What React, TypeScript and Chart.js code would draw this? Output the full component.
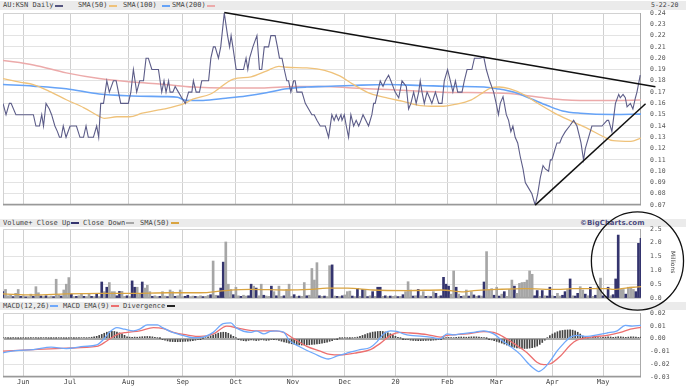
import React, { useEffect, useRef } from 'react';
import { Chart, registerables } from 'chart.js';
Chart.register(...registerables);

// ---------- axis labels ----------
const monthLabels = ['Jun', 'Jul', 'Aug', 'Sep', 'Oct', 'Nov', 'Dec', '20', 'Feb', 'Mar', 'Apr', 'May'];
const monthIdx = [8, 26.5, 49.5, 71, 92, 114.5, 135, 155, 175.5, 195, 217, 237];
const priceTicks = [0.07, 0.08, 0.09, 0.1, 0.11, 0.12, 0.13, 0.14, 0.15, 0.16, 0.17, 0.18, 0.19, 0.2, 0.21, 0.22, 0.23, 0.24];
const volumeTicks = [0, 0.5, 1, 1.5, 2, 2.5];
const macdTicks = [-0.03, -0.02, -0.01, 0, 0.01, 0.02];
const lastDate = '5-22-20';

// ---------- price panel (x = trading day index) ----------
const price: [number, number][] = [
  [0, 0.16], [1.2, 0.15], [2.5, 0.16], [3.2, 0.16], [5.1, 0.15], [12, 0.15], [13, 0.14], [14.4, 0.14], [15.3, 0.15], [16, 0.14],
  [17, 0.16], [18.3, 0.155], [19.2, 0.15], [20.5, 0.14], [21.5, 0.135], [22.3, 0.13], [23, 0.13], [23.8, 0.14], [24.9, 0.13], [26.5, 0.14],
  [29, 0.14], [30.4, 0.13], [31.8, 0.13], [32.8, 0.14], [33.7, 0.13], [35.7, 0.13], [37, 0.14], [37.8, 0.13], [38.6, 0.16], [39.7, 0.16],
  [41, 0.18], [42, 0.17], [43.6, 0.18], [44.7, 0.18], [45.6, 0.17], [46.5, 0.16], [49.5, 0.16], [50.5, 0.17], [51.5, 0.19], [52.8, 0.17],
  [54, 0.18], [55.5, 0.18], [56.5, 0.2], [57.4, 0.2], [58.8, 0.19], [61.4, 0.19], [62.7, 0.17], [63.6, 0.18], [64.4, 0.17], [65.4, 0.18],
  [66, 0.17], [67.1, 0.17], [68, 0.175], [69.3, 0.17], [70.6, 0.165], [72, 0.16], [73.3, 0.17], [74.6, 0.17], [75.2, 0.18], [76.3, 0.17],
  [77.6, 0.17], [78.5, 0.18], [81.2, 0.18], [82.1, 0.2], [83.1, 0.21], [83.8, 0.21], [85.1, 0.2], [86, 0.21], [87.4, 0.24], [88.7, 0.22],
  [89.5, 0.21], [90.1, 0.22], [90.8, 0.21], [92.1, 0.19], [95, 0.19], [96, 0.2], [96.7, 0.19], [97.4, 0.2], [98.7, 0.21], [100.3, 0.22],
  [101.3, 0.19], [102.2, 0.19], [103.2, 0.21], [104.9, 0.21], [105.8, 0.22], [107.5, 0.22], [108.4, 0.21], [109.2, 0.2], [110.2, 0.2], [111.1, 0.19],
  [112.1, 0.18], [112.8, 0.18], [113.7, 0.17], [114.8, 0.18], [115.4, 0.18], [116.1, 0.17], [118.1, 0.17], [119.4, 0.16], [120.7, 0.155], [122, 0.15],
  [122.9, 0.15], [124, 0.145], [125.3, 0.14], [127.3, 0.14], [128.6, 0.13], [129.9, 0.15], [130.8, 0.145], [131.6, 0.15], [132.5, 0.145], [133.5, 0.15],
  [133.9, 0.145], [134.8, 0.15], [135.6, 0.14], [136.5, 0.13], [137.4, 0.15], [138.5, 0.14], [139.5, 0.145], [140.5, 0.14], [141.4, 0.145], [142.2, 0.15],
  [144.4, 0.14], [145.7, 0.15], [146.4, 0.16], [147, 0.16], [148, 0.17], [149, 0.18], [150.1, 0.175], [151, 0.18], [152.3, 0.185], [153.2, 0.18],
  [154.9, 0.17], [156.3, 0.165], [157.6, 0.18], [159.3, 0.175], [160.2, 0.155], [161.1, 0.16], [162.2, 0.17], [163.2, 0.16], [164.2, 0.17], [164.8, 0.18],
  [165.5, 0.17], [166.4, 0.16], [167.5, 0.17], [168.5, 0.165], [169.4, 0.16], [170.8, 0.17], [172.1, 0.16], [173.4, 0.16], [174.3, 0.18], [175.6, 0.19],
  [176.7, 0.18], [177.7, 0.17], [178.7, 0.18], [179.6, 0.17], [181.3, 0.17], [182.2, 0.18], [183.3, 0.19], [185.2, 0.19], [186.2, 0.2], [188.5, 0.2],
  [189.9, 0.201], [190.9, 0.19], [192.2, 0.18], [193.8, 0.17], [194.8, 0.16], [195.7, 0.15], [196.4, 0.16], [197.5, 0.166], [198, 0.16], [198.8, 0.15],
  [199.7, 0.145], [200.6, 0.135], [201.4, 0.14], [202.3, 0.13], [203.3, 0.125], [204.3, 0.113], [205.4, 0.102], [206.3, 0.09], [207.6, 0.085], [208.9, 0.08],
  [210.2, 0.07], [211.2, 0.08], [212.2, 0.094], [213.3, 0.105], [214.2, 0.102], [215.5, 0.1], [216.2, 0.11], [216.8, 0.11], [218.1, 0.12], [218.8, 0.125],
  [219.9, 0.125], [220.8, 0.13], [222.1, 0.135], [223.8, 0.14], [225.4, 0.145], [226.7, 0.14], [227.8, 0.13], [228.3, 0.125], [229.3, 0.11], [230, 0.12],
  [231.3, 0.13], [232.6, 0.14], [236.6, 0.14], [238.6, 0.145], [239.2, 0.145], [240.5, 0.135], [241.9, 0.16], [243.2, 0.168], [243.8, 0.165], [244.9, 0.168],
  [245.8, 0.165], [246.5, 0.157], [247.8, 0.16], [248.8, 0.155], [249.8, 0.165], [250.4, 0.17], [251.7, 0.185],
];
const sma50: [number, number][] = [
  [0, 0.182], [7, 0.1787], [12, 0.1767], [19, 0.17], [25, 0.1632], [32, 0.1561], [38, 0.1485], [40, 0.1468], [45, 0.1482], [50, 0.1482],
  [55, 0.1513], [61, 0.1541], [64, 0.1552], [72, 0.1603], [75, 0.1637], [82, 0.1683], [91, 0.1815], [98, 0.1835], [104, 0.1886], [109, 0.1928],
  [112, 0.192], [120, 0.1914], [127, 0.1892], [133, 0.1843], [138, 0.1773], [145, 0.1688], [152, 0.1646], [158, 0.1618], [165, 0.1581], [171, 0.1575],
  [174, 0.1575], [178, 0.1589], [185, 0.1632], [190, 0.1702], [192.5, 0.1736], [196, 0.1745], [200, 0.173], [206, 0.1674], [211, 0.1603], [217.5, 0.1519],
  [224, 0.1448], [231, 0.1377], [237, 0.1307], [241, 0.127], [248, 0.1264], [252, 0.1293],
];
const sma100: [number, number][] = [
  [0, 0.1767], [12, 0.1753], [25, 0.173], [38, 0.1683], [51, 0.1666], [64, 0.166], [69, 0.1654], [72, 0.1628], [79, 0.1626], [88, 0.1646],
  [96, 0.1666], [104, 0.1694], [112, 0.173], [120, 0.1745], [127, 0.175], [138, 0.1759], [152, 0.1767], [165, 0.1759], [178, 0.175], [190, 0.1745],
  [195, 0.173], [202, 0.1698], [208, 0.1646], [215, 0.1581], [221, 0.1533], [228, 0.1513], [241, 0.1502], [252, 0.1505],
];
const sma200: [number, number][] = [
  [0, 0.198], [12, 0.194], [25, 0.187], [38, 0.182], [51, 0.179], [63, 0.177], [75, 0.1745], [88, 0.1736], [102, 0.1736], [115, 0.175],
  [127, 0.175], [138, 0.1736], [152, 0.1722], [165, 0.1708], [178, 0.1697], [190, 0.1694], [202, 0.1683], [208, 0.1666], [215, 0.1646], [221, 0.1632],
  [228, 0.1626], [241, 0.1626], [252, 0.163],
];
const trendUpper: [number, number][] = [[87.4, 0.2405], [257.7, 0.1747]];
const trendLower: [number, number][] = [[210.2, 0.07], [253.8, 0.1597]];

// ---------- volume panel (millions) ----------
const volumes: number[] = [
  0.23, 0.31, 0.08, 0.11, 0.05, 0.17, 0.31, 0.06, 0.08, 0.04,
  0.05, 0.14, 0.06, 0.41, 0.19, 0.07, 0.05, 0.08, 0.04, 0.07,
  0.05, 0.68, 0.11, 0.07, 0.29, 0.50, 0.74, 0.14, 0.05, 0.06,
  0.08, 0.17, 0.06, 0.05, 0.14, 0.06, 0.05, 0.17, 0.05, 0.58,
  0.23, 0.39, 0.56, 0.23, 0.23, 0.08, 0.24, 0.24, 0.06, 0.08,
  0.05, 0.62, 0.39, 0.39, 0.17, 0.58, 0.36, 0.46, 0.23, 0.06,
  0.08, 0.05, 0.06, 0.23, 0.07, 0.05, 0.29, 0.23, 0.06, 0.08,
  0.29, 0.05, 0.06, 0.10, 0.05, 0.07, 0.06, 0.05, 0.08, 0.05,
  0.06, 0.09, 0.12, 1.34, 0.10, 0.08, 0.36, 1.30, 2.03, 0.50,
  0.31, 0.12, 0.39, 0.08, 0.06, 0.10, 0.07, 0.08, 0.50, 0.43,
  0.36, 0.08, 0.50, 0.10, 0.07, 0.06, 0.43, 0.23, 0.08, 0.43,
  0.06, 0.08, 0.31, 0.50, 0.06, 0.12, 0.05, 0.07, 0.06, 0.56,
  0.08, 0.10, 1.07, 0.65, 1.28, 0.08, 0.06, 0.07, 0.05, 1.17,
  1.20, 0.07, 0.06, 0.05, 0.08, 0.11, 0.23, 0.25, 0.07, 0.05,
  0.35, 0.06, 0.31, 0.31, 0.05, 0.08, 0.23, 0.06, 0.39, 0.39,
  0.06, 0.08, 0.05, 0.07, 0.06, 0.08, 0.05, 0.06, 0.12, 0.23,
  0.59, 0.29, 0.07, 0.08, 0.31, 0.08, 0.23, 0.06, 0.07, 0.05,
  0.23, 0.17, 0.06, 0.08, 0.75, 0.50, 0.43, 0.14, 0.98, 0.39,
  0.14, 0.06, 0.08, 0.29, 0.07, 0.23, 0.11, 0.06, 0.08, 0.07,
  0.58, 1.68, 0.29, 0.34, 0.10, 0.39, 0.07, 0.14, 0.23, 0.06,
  0.31, 0.65, 0.43, 0.17, 0.53, 0.56, 0.57, 0.65, 0.98, 0.86,
  0.08, 0.27, 0.06, 0.27, 0.08, 0.07, 0.39, 0.08, 0.06, 0.17,
  0.07, 0.10, 0.23, 0.31, 0.69, 0.08, 0.07, 0.17, 0.41, 0.29,
  0.14, 0.08, 0.39, 0.06, 0.10, 0.41, 0.72, 0.08, 0.06, 0.39,
  0.08, 0.12, 0.69, 2.28, 0.31, 0.31, 0.14, 0.39, 0.39, 0.31,
  0.23, 1.98, 2.16,
];
// 1 = close up, 0 = close down
const volumeUp: number[] = [
  1, 0, 0, 0, 1, 0, 0, 1, 0, 1,
  0, 0, 1, 0, 0, 1, 0, 1, 0, 0,
  1, 0, 0, 1, 0, 0, 0, 1, 0, 1,
  0, 0, 1, 0, 0, 1, 0, 1, 0, 1,
  0, 1, 0, 0, 0, 1, 1, 0, 0, 1,
  0, 1, 1, 0, 0, 1, 0, 0, 0, 1,
  0, 0, 1, 0, 0, 1, 0, 0, 1, 0,
  0, 0, 1, 1, 0, 0, 1, 0, 0, 1,
  0, 0, 1, 0, 0, 1, 1, 1, 0, 0,
  0, 1, 0, 0, 1, 0, 0, 1, 1, 0,
  1, 0, 0, 1, 0, 0, 1, 0, 1, 0,
  0, 1, 0, 0, 0, 1, 0, 1, 0, 0,
  1, 0, 0, 0, 0, 1, 0, 1, 0, 0,
  1, 0, 1, 0, 1, 0, 0, 0, 1, 0,
  1, 0, 1, 0, 1, 0, 1, 0, 1, 1,
  0, 1, 0, 1, 0, 0, 1, 0, 1, 0,
  0, 0, 1, 0, 1, 0, 0, 1, 0, 1,
  0, 1, 0, 1, 1, 1, 1, 0, 0, 1,
  0, 1, 0, 0, 1, 0, 1, 0, 1, 0,
  1, 0, 0, 0, 1, 0, 1, 0, 1, 0,
  0, 0, 1, 0, 0, 0, 0, 0, 0, 0,
  1, 1, 0, 1, 0, 1, 1, 0, 1, 0,
  0, 1, 1, 0, 1, 0, 1, 1, 0, 0,
  1, 0, 1, 0, 1, 0, 0, 1, 0, 1,
  0, 1, 1, 1, 0, 0, 1, 0, 0, 0,
  1, 1, 1,
];
const volumeSma50: [number, number][] = [
  [0, 0.15], [12, 0.11], [25, 0.15], [38, 0.17], [51, 0.17], [65, 0.19], [78, 0.19], [88, 0.27], [98, 0.31], [111, 0.29],
  [121, 0.31], [128, 0.36], [136, 0.36], [146, 0.29], [160, 0.27], [173, 0.29], [182, 0.22], [186, 0.27], [195, 0.31], [206, 0.34],
  [219, 0.31], [225, 0.34], [239, 0.34], [241, 0.31], [249, 0.39], [252, 0.41],
];
const circleMark = { x: 250.6, y: 1.34, rx: 18.2, ry: 1.78 };

// ---------- MACD panel ----------
const macdLine: [number, number][] = [
  [0, -0.011], [5, -0.0093], [12, -0.0086], [19, -0.0066], [25, -0.0078], [32, -0.0061], [37, -0.0049], [40, 0], [42, 0.0049], [45, 0.0086],
  [48, 0.0074], [51.5, 0.0061], [54, 0.0074], [57, 0.0108], [61, 0.0108], [63, 0.0086], [67, 0.0049], [71, 0.0025], [75, 0.0007], [79, 0.0012],
  [83, 0.0049], [87, 0.0118], [90, 0.0123], [92, 0.0086], [98, 0.0049], [100, 0.0061], [103, 0.0037], [105.5, 0.0056], [108, 0.0061], [111, 0.0049],
  [113, -0.0012], [117, -0.0061], [123, -0.0118], [128.6, -0.0159], [132, -0.0135], [136, -0.0112], [141, -0.0086], [145, -0.0069], [147.7, -0.0025], [150.3, 0.0037],
  [153, 0.0061], [155.6, 0.0056], [158.2, 0.0037], [160.9, 0.0025], [164.8, 0.002], [168.8, 0.0012], [172.7, 0], [175.4, 0.0037], [178, 0.0029], [180.6, 0.0037],
  [185.9, 0.0049], [189.9, 0.0061], [193.8, 0.0037], [197.8, -0.0025], [200.4, -0.0061], [204.3, -0.0123], [207, -0.0184], [209.6, -0.0233], [211.6, -0.0257], [213.6, -0.0233],
  [216.2, -0.0172], [218.8, -0.0098], [221.5, -0.0037], [224.1, 0.0012], [226.7, 0.0025], [230.7, 0.0017], [234.7, 0.0029], [238.6, 0.0044], [242.6, 0.0061], [245.8, 0.0103],
  [248.5, 0.0098], [252, 0.0103],
];
const macdSignal: [number, number][] = [
  [0, -0.0098], [12, -0.0086], [25, -0.0074], [37, -0.0061], [41, -0.0018], [45, 0.0032], [49, 0.0049], [54, 0.0061], [59.4, 0.0086], [63.4, 0.0078],
  [67.3, 0.0049], [72.6, 0.0029], [77.9, 0.0017], [83.1, 0.0037], [88.4, 0.0098], [93.7, 0.0078], [100.3, 0.0061], [106.9, 0.0061], [110.8, 0.0049], [114.8, 0],
  [120, -0.0061], [125.3, -0.0098], [129.2, -0.0123], [133.2, -0.0127], [139.8, -0.011], [145.1, -0.0086], [149, -0.0037], [153, 0.0025], [156.9, 0.0049], [160.9, 0.0044],
  [167.5, 0.0032], [172.7, 0.0012], [175.4, 0.0025], [183.3, 0.0037], [189.9, 0.0054], [193.8, 0.0049], [197.8, 0.0012], [201.7, -0.0037], [207, -0.011], [210.9, -0.0184],
  [213.6, -0.0203], [216.2, -0.0196], [220.2, -0.0135], [224.1, -0.0049], [226.7, -0.0012], [232, 0.0012], [238.6, 0.0025], [243.9, 0.0049], [247.8, 0.0074], [252, 0.0088],
];
const macdHist: number[] = [
  0.0005, 0.0006, 0.0004, 0.0003, 0.0005, 0.0004, 0.0003, 0.0004, 0.0006, 0.0004,
  0.0005, 0.0006, 0.0007, 0.0005, 0.0004, 0.0006, 0.0007, 0.0005, 0.0004, 0.0003,
  0.0005, 0.0004, 0.0006, 0.0005, 0.0004, 0.0003, 0.0005, 0.0006, 0.0004, 0.0005,
  0.0006, 0.0008, 0.0007, 0.0006, 0.0009, 0.0011, 0.0014, 0.0018,
  0.0025, 0.0033, 0.0042, 0.0050, 0.0055, 0.0057, 0.0056, 0.0052, 0.0045, 0.0037, 0.0026, 0.0015,
  0.0012, 0.0010, 0.0012, 0.0011, 0.0013, 0.0015, 0.0016, 0.0017, 0.0017, 0.0014, 0.0010, 0.0006, 0.0002,
  -0.0006, -0.0012, -0.0018, -0.0021, -0.0023, -0.0024, -0.0024, -0.0023, -0.0022, -0.0021, -0.0020, -0.0018, -0.0016, -0.0012, -0.0008, -0.0004,
  0.0002, 0.0008, 0.0015, 0.0022,
  0.0028, 0.0036, 0.0043, 0.0048, 0.0050, 0.0049, 0.0042, 0.0030, 0.0018,
  0.0006, -0.0006, -0.0012, -0.0016, -0.0017, -0.0014, -0.0010, -0.0012, -0.0015, -0.0013,
  -0.0009, -0.0011, -0.0014, -0.0012, -0.0008, -0.0006, -0.0009, -0.0014, -0.0020,
  -0.0025, -0.0030, -0.0035, -0.0040, -0.0044, -0.0047, -0.0049, -0.0050, -0.0050, -0.0049,
  -0.0048, -0.0046, -0.0044, -0.0042, -0.0039, -0.0036, -0.0032, -0.0027, -0.0021, -0.0015,
  -0.0008, -0.0002, 0.0003, 0.0005, 0.0006, 0.0005, 0.0004, 0.0006, 0.0008, 0.0012,
  0.0018, 0.0025, 0.0032, 0.0040, 0.0046, 0.0051, 0.0054, 0.0056, 0.0057, 0.0056, 0.0052, 0.0046, 0.0038, 0.0028,
  0.0018, 0.0010, 0.0004, -0.0002, -0.0006, -0.0009, -0.0012,
  -0.0014, -0.0015, -0.0016, -0.0016, -0.0015, -0.0014, -0.0013, -0.0013, -0.0012, -0.0010, -0.0007, -0.0003,
  0.0004, 0.0008, 0.0010, 0.0009, 0.0008, 0.0010, 0.0012, 0.0013, 0.0012, 0.0011,
  0.0012, 0.0014, 0.0015, 0.0014, 0.0012, 0.0010, 0.0007, 0.0002,
  -0.0004, -0.0010, -0.0016, -0.0022, -0.0028, -0.0035, -0.0042, -0.0050, -0.0057, -0.0063,
  -0.0068, -0.0072, -0.0074, -0.0076, -0.0077, -0.0076, -0.0074, -0.0071, -0.0066, -0.0058, -0.0045, -0.0030, -0.0012,
  0.0008, 0.0024, 0.0036, 0.0046, 0.0054, 0.0060, 0.0064, 0.0067, 0.0068, 0.0068, 0.0066, 0.0060, 0.0050, 0.0036, 0.0020,
  0.0010, 0.0006, 0.0008, 0.0010, 0.0012, 0.0009, 0.0008, 0.0010, 0.0012, 0.0014,
  0.0013, 0.0011, 0.0012, 0.0015, 0.0014, 0.0012, 0.0010, 0.0012, 0.0015, 0.0014, 0.0012, 0.0010, 0.0013,
];

// ---------- styling ----------
const MONO = "'DejaVu Sans Mono', 'Liberation Mono', monospace";
const W = 686;
const AXIS_W = 45;

const toXY = (p: [number, number][]) => p.map(([x, y]) => ({ x, y }));

function xScale(showLabels: boolean): any {
  return {
    type: 'linear',
    min: 0,
    max: 252,
    offset: false,
    afterBuildTicks: (s: any) => { s.ticks = monthIdx.map((v) => ({ value: v })); },
    ticks: {
      display: showLabels,
      autoSkip: false,
      maxRotation: 0,
      padding: 1,
      color: '#444',
      font: { family: MONO, size: 7 },
      callback: (_v: any, i: number) => monthLabels[i],
    },
    grid: { color: '#d0d0d0', lineWidth: 1, drawTicks: false, offset: false },
    border: { display: false },
  };
}

function yScale(ticks: number[], digits: number, grid?: any): any {
  return {
    type: 'linear',
    position: 'right',
    min: ticks[0],
    max: ticks[ticks.length - 1],
    afterBuildTicks: (s: any) => { s.ticks = ticks.map((v) => ({ value: v })); },
    afterFit: (s: any) => { s.width = AXIS_W; },
    ticks: {
      padding: 9,
      color: '#555',
      font: { family: MONO, size: 6.5 },
      callback: (v: any) => Number(v).toFixed(digits),
    },
    grid: grid ?? { color: '#e3e3e3', lineWidth: 1, drawTicks: false },
    border: { display: false },
  };
}

const framePlugin = {
  id: 'frame',
  beforeDatasetsDraw(chart: any) {
    const { ctx, chartArea: a } = chart;
    ctx.save();
    ctx.lineWidth = 1;
    ctx.strokeStyle = '#d2d2d2';
    ctx.beginPath();
    ctx.moveTo(a.left + 0.5, a.bottom);
    ctx.lineTo(a.left + 0.5, a.top + 0.5);
    ctx.lineTo(a.right, a.top + 0.5);
    ctx.stroke();
    ctx.strokeStyle = '#aaaaaa';
    ctx.beginPath();
    ctx.moveTo(a.right - 0.5, a.top);
    ctx.lineTo(a.right - 0.5, a.bottom);
    ctx.stroke();
    ctx.strokeStyle = '#999999';
    ctx.lineWidth = 1.5;
    ctx.beginPath();
    ctx.moveTo(a.left, a.bottom - 0.5);
    ctx.lineTo(a.right, a.bottom - 0.5);
    ctx.stroke();
    ctx.restore();
  },
};

const circlePlugin = {
  id: 'circleMark',
  afterDraw(chart: any) {
    const { ctx, scales } = chart;
    const x = scales.x;
    const y = scales.y;
    const cx = x.getPixelForValue(circleMark.x);
    const cy = y.getPixelForValue(circleMark.y);
    const rx = Math.abs(x.getPixelForValue(circleMark.x + circleMark.rx) - cx);
    const ry = Math.abs(y.getPixelForValue(circleMark.y + circleMark.ry) - cy);
    ctx.save();
    ctx.beginPath();
    ctx.ellipse(cx, cy, rx, ry, 0, 0, Math.PI * 2);
    ctx.strokeStyle = '#111';
    ctx.lineWidth = 1.3;
    ctx.stroke();
    ctx.restore();
  },
};

const baseOptions = {
  responsive: false,
  animation: false as const,
  devicePixelRatio: 1,
  events: [] as any[],
  plugins: { legend: { display: false }, tooltip: { enabled: false } },
  elements: { point: { radius: 0 } },
};

function PriceChart() {
  const ref = useRef<HTMLCanvasElement>(null);
  useEffect(() => {
    const chart = new Chart(ref.current!, {
      type: 'line',
      data: {
        datasets: [
          { data: toXY(trendUpper), borderColor: '#111', borderWidth: 1.5, pointRadius: 0, clip: false } as any,
          { data: toXY(trendLower), borderColor: '#111', borderWidth: 1.5, pointRadius: 0, clip: false } as any,
          { data: toXY(price), borderColor: '#5c5c88', borderWidth: 1.1, pointRadius: 0, tension: 0 },
          { data: toXY(sma50), borderColor: '#efc27a', borderWidth: 1.3, pointRadius: 0, cubicInterpolationMode: 'monotone' },
          { data: toXY(sma100), borderColor: '#66a3f7', borderWidth: 1.6, pointRadius: 0, cubicInterpolationMode: 'monotone' },
          { data: toXY(sma200), borderColor: '#ecaaaa', borderWidth: 1.5, pointRadius: 0, cubicInterpolationMode: 'monotone' },
        ],
      },
      options: {
        ...baseOptions,
        layout: { padding: { left: 3, top: 13, bottom: 4, right: 0 } },
        scales: { x: xScale(false), y: yScale(priceTicks, 2) },
      } as any,
      plugins: [framePlugin],
    });
    return () => chart.destroy();
  }, []);
  return <canvas ref={ref} width={W} height={218} style={{ position: 'absolute', left: 0, top: 0, width: W, height: 218 }} />;
}

function VolumeChart() {
  const ref = useRef<HTMLCanvasElement>(null);
  useEffect(() => {
    const chart = new Chart(ref.current!, {
      type: 'bar',
      data: {
        datasets: [
          {
            type: 'line',
            data: toXY(volumeSma50),
            borderColor: '#d9a441',
            borderWidth: 1.3,
            pointRadius: 0,
            cubicInterpolationMode: 'monotone',
          } as any,
          {
            type: 'bar',
            data: volumes.map((v, i) => ({ x: i, y: v })),
            backgroundColor: volumeUp.map((u) => (u ? '#34346e' : '#a6a6a6')),
            barThickness: 2,
          } as any,
        ],
      },
      options: {
        ...baseOptions,
        layout: { padding: { left: 3, top: 24, bottom: 14, right: 0 } },
        scales: { x: xScale(false), y: yScale(volumeTicks, 1) },
      } as any,
      plugins: [framePlugin, circlePlugin],
    });
    return () => chart.destroy();
  }, []);
  return <canvas ref={ref} width={W} height={107} style={{ position: 'absolute', left: 0, top: 205, width: W, height: 107 }} />;
}

function MacdChart() {
  const ref = useRef<HTMLCanvasElement>(null);
  useEffect(() => {
    const chart = new Chart(ref.current!, {
      type: 'bar',
      data: {
        datasets: [
          { type: 'line', data: toXY(macdLine), borderColor: '#6fa8fb', borderWidth: 1.3, pointRadius: 0, cubicInterpolationMode: 'monotone' } as any,
          { type: 'line', data: toXY(macdSignal), borderColor: '#ec6f6f', borderWidth: 1.3, pointRadius: 0, cubicInterpolationMode: 'monotone' } as any,
          { type: 'bar', data: macdHist.map((v, i) => ({ x: i, y: v })), backgroundColor: '#444', barThickness: 1 } as any,
        ],
      },
      options: {
        ...baseOptions,
        layout: { padding: { left: 3, top: 13, bottom: 0, right: 0 } },
        scales: {
          x: xScale(true),
          y: yScale(macdTicks, 2, {
            drawTicks: false,
            color: (c: any) => (c.tick && Math.abs(c.tick.value) < 1e-9 ? '#a8a8a8' : '#e3e3e3'),
            lineWidth: (c: any) => (c.tick && Math.abs(c.tick.value) < 1e-9 ? 2 : 1),
          }),
        },
      } as any,
      plugins: [framePlugin],
    });
    return () => chart.destroy();
  }, []);
  return <canvas ref={ref} width={W} height={90} style={{ position: 'absolute', left: 0, top: 300, width: W, height: 90 }} />;
}

type Item = { left: number; text?: string; swatch?: string; bold?: boolean; color?: string; size?: number; family?: string };

function Strip({ top, height, items }: { top: number; height: number; items: Item[] }) {
  return (
    <div style={{ position: 'absolute', left: 0, top, width: W, height, background: '#ebebeb' }}>
      {items.map((it, i) =>
        it.swatch ? (
          <div
            key={i}
            style={{ position: 'absolute', left: it.left, top: Math.round(height / 2) - 1, width: 8, height: 2, background: it.swatch }}
          />
        ) : (
          <div
            key={i}
            style={{
              position: 'absolute',
              left: it.left,
              top: 0,
              height,
              lineHeight: height + 'px',
              fontFamily: it.family ?? MONO,
              fontSize: it.size ?? 7,
              fontWeight: it.bold ? 700 : 400,
              color: it.color ?? '#444',
              whiteSpace: 'pre',
            }}
          >
            {it.text}
          </div>
        ),
      )}
    </div>
  );
}

export default function App() {
  return (
    <div style={{ position: 'fixed', left: 0, top: 0, width: W, height: 390, background: '#fff', overflow: 'hidden' }}>
      <Strip
        top={1}
        height={9}
        items={[
          { left: 3, text: 'AU:KSN Daily' },
          { left: 55, swatch: '#55557f' },
          { left: 78, text: 'SMA(50)' },
          { left: 109, swatch: '#efc27a' },
          { left: 123, text: 'SMA(100)' },
          { left: 162, swatch: '#66a3f7' },
          { left: 172, text: 'SMA(200)' },
          { left: 207, swatch: '#ecaaaa' },
          { left: 651, text: lastDate, size: 6.5 },
        ]}
      />
      <Strip
        top={219}
        height={8}
        items={[
          { left: 3, text: 'Volume+ Close Up' },
          { left: 71, swatch: '#34346e' },
          { left: 83, text: 'Close Down' },
          { left: 126, swatch: '#a6a6a6' },
          { left: 140, text: 'SMA(50)' },
          { left: 171, swatch: '#d9a441' },
          { left: 580, text: '©BigCharts.com', bold: true, color: '#4b4b80', family: "'DejaVu Sans', sans-serif" },
        ]}
      />
      <Strip
        top={302}
        height={8}
        items={[
          { left: 3, text: 'MACD(12,26)' },
          { left: 50, swatch: '#6fa8fb' },
          { left: 63, text: 'MACD EMA(9)' },
          { left: 111, swatch: '#ec6f6f' },
          { left: 123, text: 'Divergence' },
          { left: 167, swatch: '#222' },
        ]}
      />
      <PriceChart />
      <VolumeChart />
      <MacdChart />
      <div
        style={{
          position: 'absolute',
          left: 669,
          top: 251,
          writingMode: 'vertical-rl',
          fontFamily: "'DejaVu Sans', sans-serif",
          fontSize: 6,
          color: '#444',
          lineHeight: '8px',
        }}
      >
        Millions
      </div>
    </div>
  );
}
